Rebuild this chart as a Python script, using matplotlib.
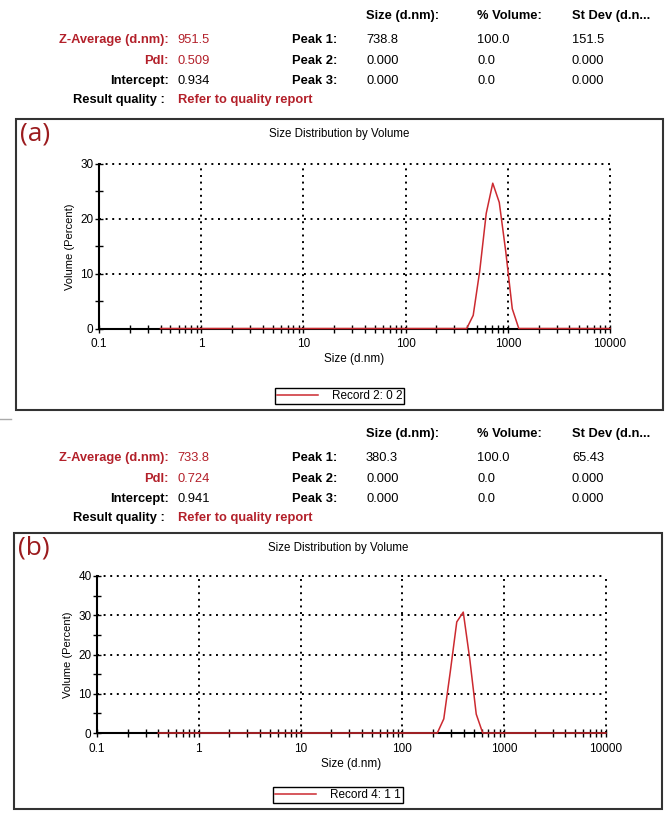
import matplotlib
matplotlib.use('Agg')
import matplotlib.pyplot as plt
from matplotlib.patches import Rectangle
from matplotlib.lines import Line2D
from matplotlib.ticker import FixedLocator, NullFormatter

plt.rcParams['font.family'] = ['Liberation Sans', 'DejaVu Sans']

W, H = 666, 814
RED = '#b3202a'
LINE_RED = '#cc2a30'

# size classes (d.nm) and volume (%)
sizes_a = [0.4, 396.1, 458.7, 531.2, 615.1, 712.4, 825.0, 955.4, 1106, 1281, 10000]
volume_a = [0, 0, 2.4, 10.5, 21.0, 26.5, 23.0, 14.0, 3.6, 0, 0]
sizes_b = [0.4, 220.2, 255.0, 295.3, 342.0, 396.1, 458.7, 531.2, 615.1, 10000]
volume_b = [0, 0, 3.6, 15.6, 28.3, 30.8, 18.9, 4.8, 0, 0]

# header tables
summary_a = ['951.5', '0.509', '0.934']
summary_b = ['733.8', '0.724', '0.941']
peaks_a = [['738.8', '100.0', '151.5'], ['0.000', '0.0', '0.000'], ['0.000', '0.0', '0.000']]
peaks_b = [['380.3', '100.0', '65.43'], ['0.000', '0.0', '0.000'], ['0.000', '0.0', '0.000']]
col_heads = ['Size (d.nm):', '% Volume:', 'St Dev (d.n...']
row_heads = ['Z-Average (d.nm):', 'PdI:', 'Intercept:']
peak_names = ['Peak 1:', 'Peak 2:', 'Peak 3:']
xtick_vals = [0.1, 1, 10, 100, 1000, 10000]
xtick_labels = ['0.1', '1', '10', '100', '1000', '10000']

fig = plt.figure(figsize=(W / 100, H / 100), dpi=100)
FS = 9.3


def fx(px):
    return px / W


def fy(py):
    return 1 - py / H


def header(top, summary, peaks):
    rows = [top + 24, top + 45, top + 65]
    cols = [366, 477, 572]
    for c, t in zip(cols, col_heads):
        fig.text(fx(c), fy(top), t, fontsize=FS, fontweight='bold', va='center')
    for i in range(3):
        lab_col = RED if i < 2 else 'black'
        fig.text(fx(169), fy(rows[i]), row_heads[i], fontsize=FS, fontweight='bold',
                 color=lab_col, ha='right', va='center')
        fig.text(fx(177), fy(rows[i]), summary[i], fontsize=FS,
                 color=lab_col, va='center')
        fig.text(fx(337), fy(rows[i]), peak_names[i], fontsize=FS, fontweight='bold',
                 ha='right', va='center')
        for c, v in zip(cols, peaks[i]):
            fig.text(fx(c), fy(rows[i]), v, fontsize=FS, va='center')
    fig.text(fx(165), fy(top + 84), 'Result quality :', fontsize=FS, fontweight='bold',
             ha='right', va='center')
    fig.text(fx(178), fy(top + 84), 'Refer to quality report', fontsize=FS,
             fontweight='bold', color=RED, va='center')


def panel(box, axpos, tag, sizes, vol, ymax, rec):
    x0, y0, x1, y1 = box
    fig.patches.append(Rectangle((fx(x0), fy(y1)), fx(x1 - x0), (y1 - y0) / H,
                                 transform=fig.transFigure, fill=False,
                                 edgecolor='#333333', lw=1.5))
    fig.text(fx(x0 + 4), fy(y0 + 15), tag, fontsize=19, color='#9b1b1e',
             family=['Open Sans', 'DejaVu Sans'], va='center')
    fig.text(fx((x0 + x1) / 2), fy(y0 + 15), 'Size Distribution by Volume',
             fontsize=8.3, ha='center', va='center')

    l, t, r, b = axpos
    ax = fig.add_axes([fx(l), fy(b), (r - l) / W, (b - t) / H])
    ax.plot(sizes, vol, color=LINE_RED, lw=1.1, zorder=3, clip_on=False)
    ax.set_xscale('log')
    ax.set_xlim(0.1, 10000)
    ax.set_ylim(0, ymax)
    ax.xaxis.set_major_locator(FixedLocator(xtick_vals))
    ax.set_xticklabels(xtick_labels)
    minors = [m * d for d in [0.1, 1, 10, 100, 1000] for m in range(2, 10)]
    ax.xaxis.set_minor_locator(FixedLocator(minors))
    ax.xaxis.set_minor_formatter(NullFormatter())
    ax.set_yticks(range(0, ymax + 1, 10))
    ax.yaxis.set_minor_locator(FixedLocator(range(5, ymax, 10)))
    ax.tick_params(which='both', direction='inout', length=6, width=1, labelsize=8.5)
    ax.tick_params(axis='x', pad=4)
    ax.tick_params(axis='y', pad=1)
    ax.grid(True, which='major', color='black', linestyle=(0, (1, 2.4)), lw=1.4)
    for g in ax.get_xgridlines() + ax.get_ygridlines():
        g.set_clip_on(False)
    for s in ['top', 'right']:
        ax.spines[s].set_visible(False)
    for s in ['left', 'bottom']:
        ax.spines[s].set_linewidth(1.5)
    ax.set_xlabel('Size (d.nm)', fontsize=8.5, labelpad=2)
    ax.set_ylabel('Volume (Percent)', fontsize=8, labelpad=4)

    h = Line2D([], [], color=LINE_RED, lw=1.1)
    fig.legend([h], [rec], loc='center', bbox_to_anchor=(fx((x0 + x1) / 2), fy(y1 - 14)),
               fontsize=8.5, frameon=True, fancybox=False, edgecolor='black',
               framealpha=1, handlelength=3.5, borderpad=0.15, handletextpad=1.2,
               borderaxespad=0)
    return ax


header(16, summary_a, peaks_a)
panel((16, 119, 663, 410), (99, 164, 610, 328.5), '(a)', sizes_a, volume_a, 30, 'Record 2: 0 2')
fig.lines.append(Line2D([0, fx(11)], [fy(419), fy(419)], transform=fig.transFigure,
                        color='#aaaaaa', lw=1))
header(434, summary_b, peaks_b)
panel((14, 533, 662, 809), (97, 576, 606, 733), '(b)', sizes_b, volume_b, 40, 'Record 4: 1 1')

fig.savefig('out.png', dpi=100, facecolor='white')
